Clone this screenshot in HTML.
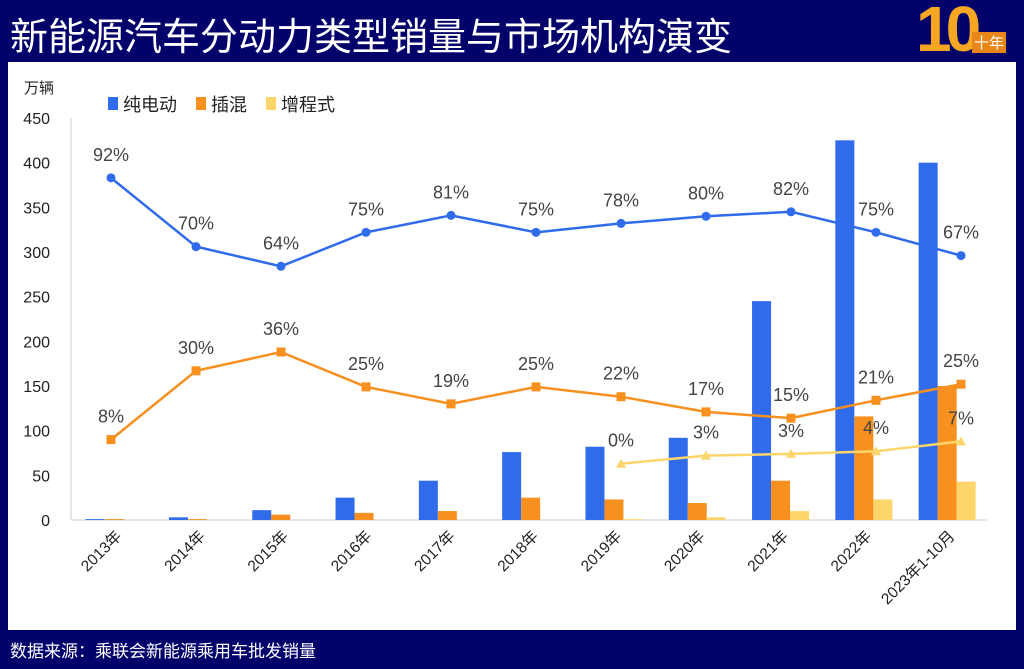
<!DOCTYPE html>
<html><head><meta charset="utf-8"><style>
body{margin:0;width:1024px;height:669px;background:#02026a;overflow:hidden;font-family:"Liberation Sans","Noto Sans CJK SC",sans-serif;}
.title{position:absolute;left:10px;top:6px;color:#fff;font-size:38px;letter-spacing:0px;}
.panel{position:absolute;left:8px;top:62px;width:1008px;height:568px;background:#fff;}
.foot{position:absolute;left:10px;top:637px;color:#fff;font-size:17px;}
.logo{position:absolute;left:916px;top:2px;width:100px;height:58px;}
</style></head><body>
<div class="title">新能源汽车分动力类型销量与市场机构演变</div>
<div class="logo"><span style="position:absolute;left:0;top:-10px;font:bold 64px 'Liberation Sans',sans-serif;color:#f5a623;letter-spacing:-6px">10</span><span style="position:absolute;left:56px;top:30px;font-size:15px;color:#fff;background:#e8861a;padding:0 2px">十年</span></div>
<div class="panel"></div>
<svg id="c" width="1024" height="669" style="position:absolute;left:0;top:0"></svg>
<div class="foot">数据来源：乘联会新能源乘用车批发销量</div>
<script>
const categories=["2013年","2014年","2015年","2016年","2017年","2018年","2019年","2020年","2021年","2022年","2023年1-10月"];
const bev=[1,3,11,25,44,76,82,92,245,425,400];
const phev=[1,1,6,8,10,25,23,19,44,116,150];
const erev=[0,0,0,0,0,0,1,3,10,23,43];
const bevLine=[383,306,284,322,341,322,332,340,345,322,296];
const bevPct=["92%","70%","64%","75%","81%","75%","78%","80%","82%","75%","67%"];
const phevLine=[90,167,188,149,130,149,138,121,114,134,152];
const phevPct=["8%","30%","36%","25%","19%","25%","22%","17%","15%","21%","25%"];
const erevLine=[null,null,null,null,null,null,63,72,74,77,88];
const erevPct=["","","","","","","0%","3%","3%","4%","7%"];
const yTicks=[0,50,100,150,200,250,300,350,400,450];
const svg=document.getElementById('c');const NS='http://www.w3.org/2000/svg';
const y=v=>520-v*(402/450);
const bx=i=>71+83.3*(i+0.5);
const lx=i=>111+85*i;
function mk(t,a,name){const e=document.createElementNS(NS,t);for(const k in a)e.setAttribute(k,a[k]);svg.appendChild(e);return e;}
function tx(s,x,yy,a,name){const e=mk('text',Object.assign({x:x,y:yy,'font-size':16,fill:'#222','font-family':'Liberation Sans, Noto Sans CJK SC, sans-serif'},a),name);e.textContent=s;return e;}
mk('line',{x1:71,y1:118,x2:71,y2:520,stroke:'#ccc'},'y-axis');
mk('line',{x1:71,y1:520,x2:987,y2:520,stroke:'#ccc'},'x-axis');
yTicks.forEach(t=>tx(String(t),50,y(t)+6,{'text-anchor':'end'},'y-tick-label'));
tx('万辆',24,93,{'font-size':15},'y-axis-title');
const cols=['#2f6bea','#f7901e','#fdd56a'];
[['纯电动',108],['插混',196],['增程式',266]].forEach((l,k)=>{mk('rect',{x:l[1],y:97,width:10,height:13,fill:cols[k]},'legend-swatch');tx(l[0],l[1]+15,111,{'font-size':18},'legend-entry');});
categories.forEach((c,i)=>{
 const c0=bx(i)+1;
 [[bev,0],[phev,1],[erev,2]].forEach(([arr,k])=>{if(arr[i]>0)mk('rect',{x:c0-28+k*19,y:y(arr[i]),width:19,height:520-y(arr[i]),fill:cols[k]},'bar-'+k+'-'+i);});
 tx(c,bx(i)+10,537,{'text-anchor':'end','font-size':15.5,transform:`rotate(-45 ${bx(i)+10} 537)`},'x-tick-label');
});
function line(vals,pcts,col,shape,name){
 const pts=[];vals.forEach((v,i)=>{if(v!=null)pts.push([lx(i),y(v),i]);});
 mk('polyline',{points:pts.map(p=>p[0]+','+p[1]).join(' '),fill:'none',stroke:col,'stroke-width':2.5},name+'-line');
 pts.forEach(p=>{
  if(shape==='c')mk('circle',{cx:p[0],cy:p[1],r:4.5,fill:col},name+'-point');
  else if(shape==='s')mk('rect',{x:p[0]-4.5,y:p[1]-4.5,width:9,height:9,fill:col},name+'-point');
  else mk('polygon',{points:`${p[0]},${p[1]-5} ${p[0]-5},${p[1]+4} ${p[0]+5},${p[1]+4}`,fill:col},name+'-point');
  tx(pcts[p[2]],p[0],p[1]-17,{'text-anchor':'middle','font-size':18,fill:'#444'},name+'-label');
 });
}
line(bevLine,bevPct,'#2f6bea','c','bev');
line(phevLine,phevPct,'#f7901e','s','phev');
line(erevLine,erevPct,'#fdd56a','t','erev');
</script>
</body></html>
